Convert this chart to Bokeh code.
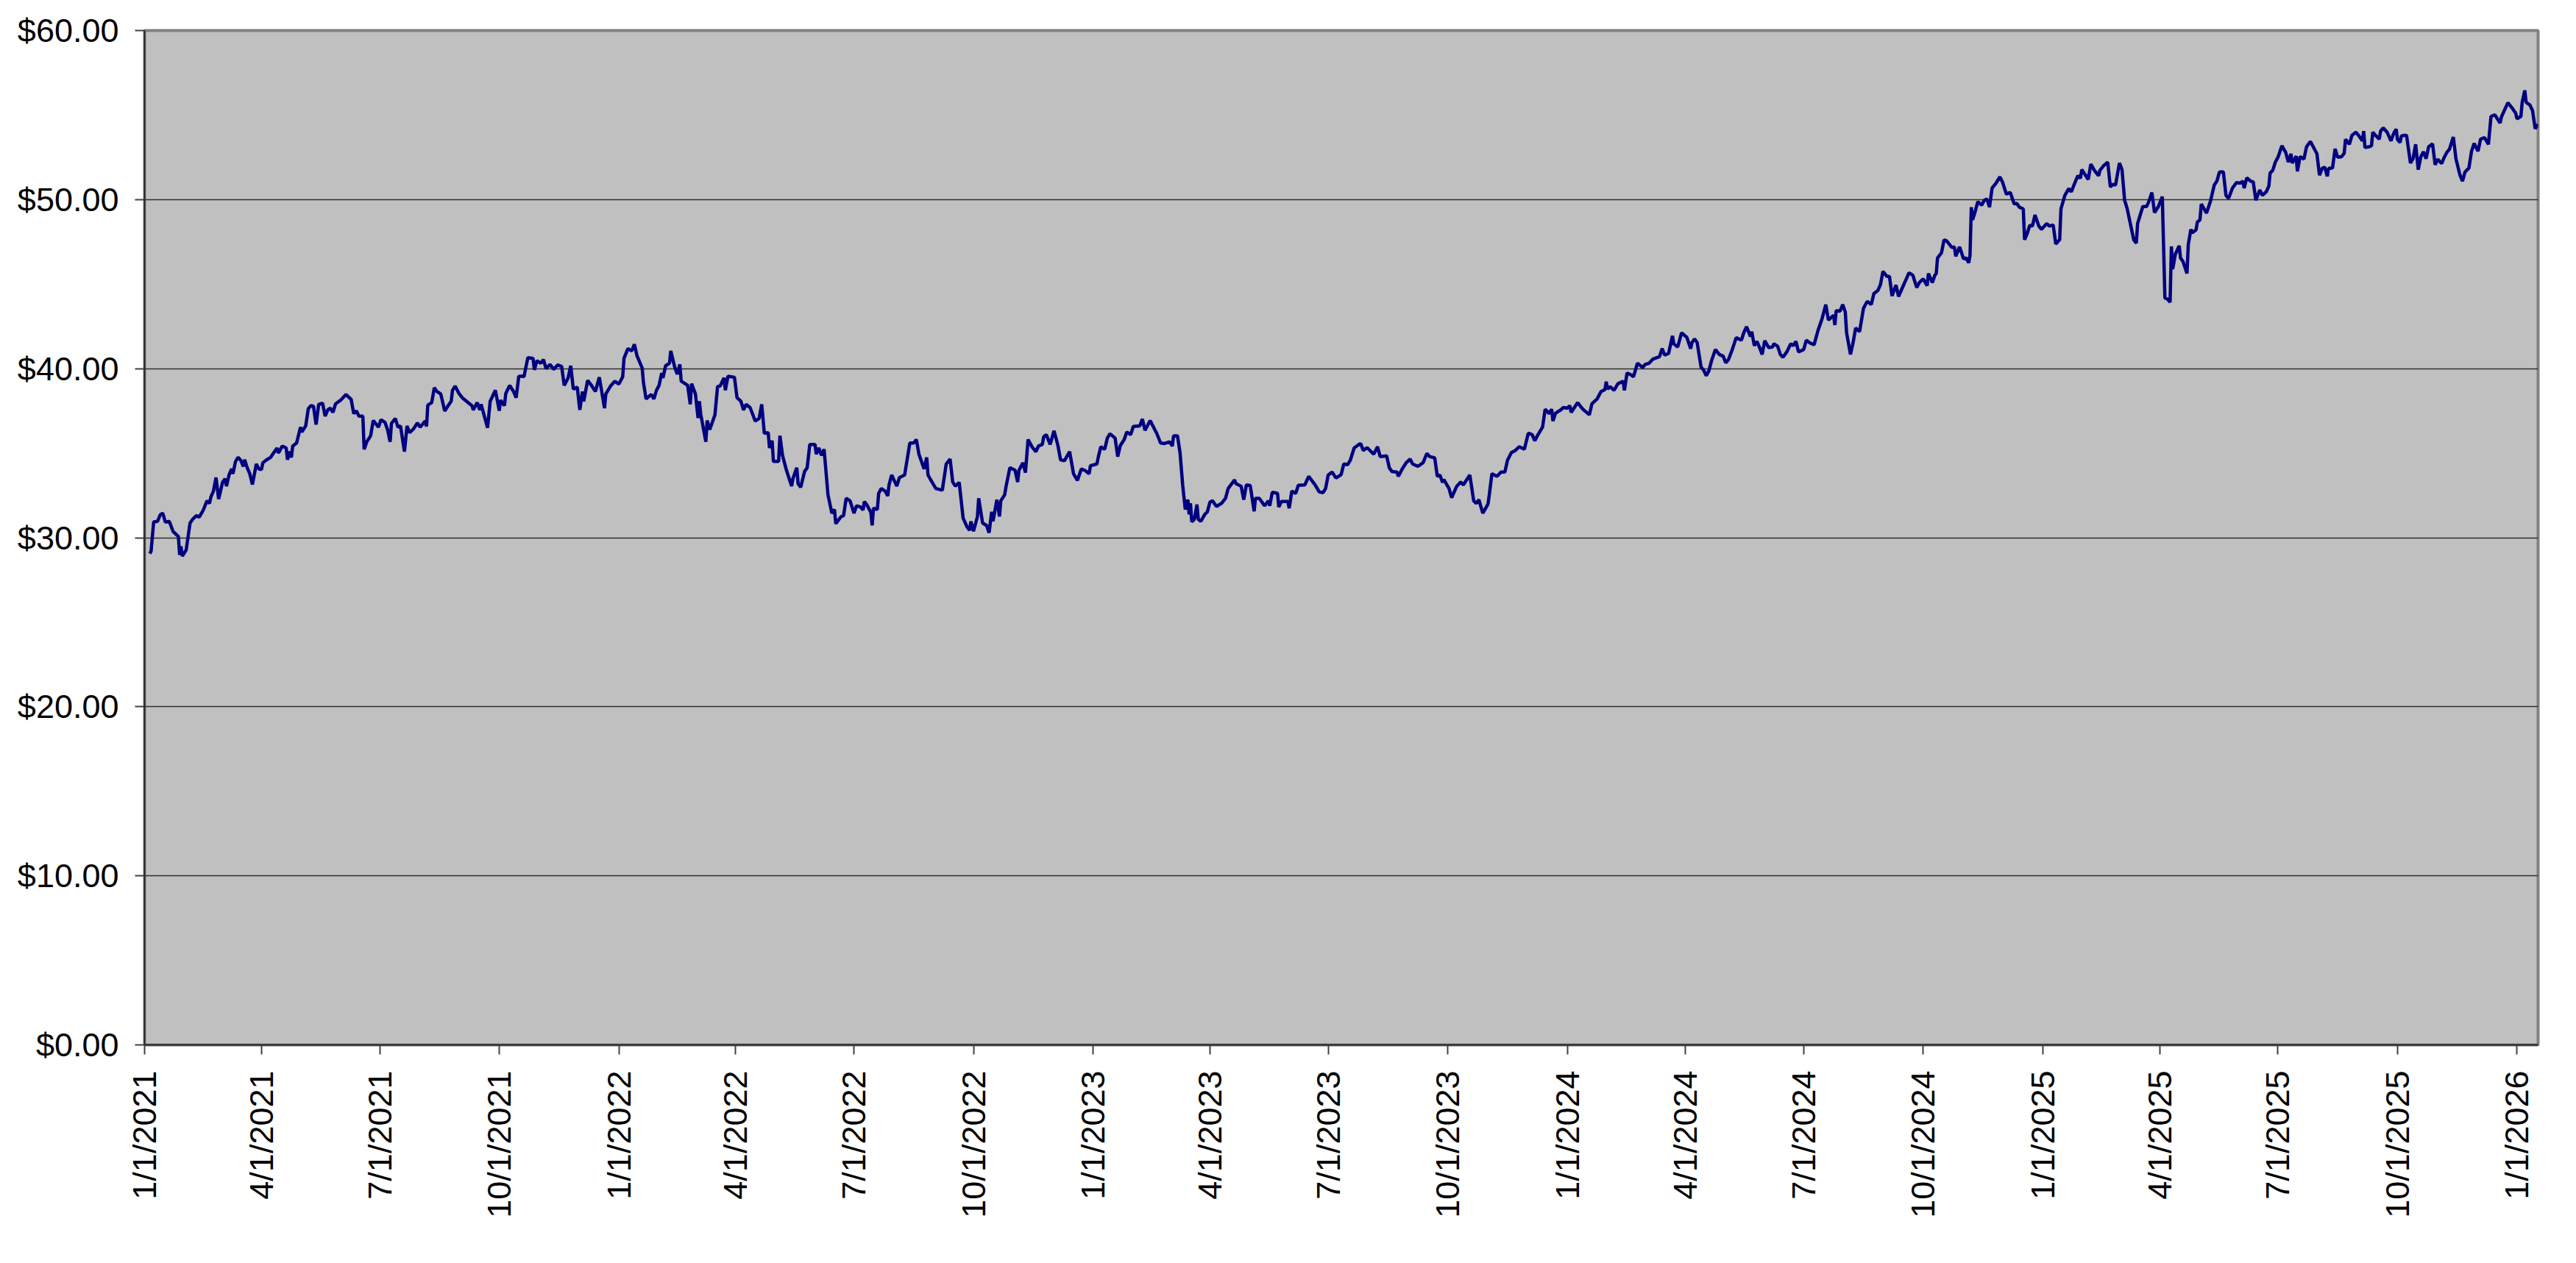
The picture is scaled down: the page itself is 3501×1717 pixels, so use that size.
import math
import pandas as pd
from bokeh.plotting import figure
from bokeh.models import ColumnDataSource, Range1d, FixedTicker, NumeralTickFormatter
from bokeh.embed import file_html
from bokeh.resources import INLINE

# ---- data: (month-day, price) per year ----
p2021 = [
    ("01-05", 29.06), ("01-06", 29.2), ("01-08", 30.94), ("01-11", 30.97), ("01-13", 31.35), ("01-15", 31.45),
    ("01-17", 30.92), ("01-20", 30.97), ("01-23", 30.36), ("01-27", 30.07), ("01-28", 28.98), ("01-29", 29.49),
    ("01-30", 28.91), ("02-02", 29.27), ("02-05", 30.87), ("02-07", 31.09), ("02-10", 31.31), ("02-12", 31.21),
    ("02-15", 31.6), ("02-18", 32.18), ("02-20", 32.03), ("02-21", 32.4), ("02-23", 32.76), ("02-25", 33.56),
    ("02-27", 32.28), ("03-02", 33.27), ("03-04", 33.49), ("03-05", 33.05), ("03-07", 33.71), ("03-09", 34.07),
    ("03-10", 33.78), ("03-12", 34.51), ("03-14", 34.75), ("03-16", 34.58), ("03-18", 34.22), ("03-19", 34.61),
    ("03-21", 34.14), ("03-23", 33.78), ("03-25", 33.15), ("03-28", 34.36), ("03-30", 34.07), ("04-01", 34.03),
    ("04-02", 34.43), ("04-05", 34.61), ("04-08", 34.75), ("04-11", 35.09), ("04-13", 35.31), ("04-14", 35.01),
    ("04-17", 35.42), ("04-20", 35.31), ("04-21", 34.61), ("04-22", 35.09), ("04-24", 34.75), ("04-25", 35.42),
    ("04-28", 35.6), ("05-01", 36.54), ("05-02", 36.25), ("05-05", 36.61), ("05-07", 37.63), ("05-09", 37.81),
    ("05-11", 37.78), ("05-13", 36.69), ("05-15", 37.89), ("05-18", 37.95), ("05-20", 37.19), ("05-22", 37.56),
    ("05-24", 37.66), ("05-26", 37.41), ("05-28", 37.92), ("06-01", 38.14), ("06-05", 38.47), ("06-09", 38.18),
    ("06-11", 37.34), ("06-13", 37.51), ("06-15", 37.19), ("06-18", 37.19), ("06-19", 35.23), ("06-21", 35.67),
    ("06-24", 36.03), ("06-26", 36.93), ("06-30", 36.54), ("07-02", 36.98), ("07-05", 36.83), ("07-07", 36.4),
    ("07-09", 35.67), ("07-10", 36.76), ("07-13", 37.05), ("07-15", 36.54), ("07-17", 36.61), ("07-20", 35.09),
    ("07-22", 36.61), ("07-24", 36.21), ("07-27", 36.44), ("07-30", 36.79), ("08-01", 36.54), ("08-05", 36.9),
    ("08-06", 36.58), ("08-07", 37.85), ("08-10", 37.99), ("08-12", 38.87), ("08-14", 38.65), ("08-17", 38.5),
    ("08-20", 37.49), ("08-23", 37.85), ("08-25", 38.07), ("08-26", 38.72), ("08-28", 38.97), ("08-31", 38.53),
    ("09-01", 38.43), ("09-03", 38.24), ("09-07", 37.99), ("09-10", 37.81), ("09-11", 37.56), ("09-14", 37.99),
    ("09-16", 37.56), ("09-17", 37.89), ("09-19", 37.34), ("09-22", 36.5), ("09-24", 38.07), ("09-28", 38.72),
    ("10-01", 37.51), ("10-02", 38.14), ("10-05", 37.81), ("10-06", 38.53), ("10-09", 39.01), ("10-12", 38.65),
    ("10-14", 38.28), ("10-16", 39.55), ("10-19", 39.55), ("10-20", 39.52), ("10-23", 40.65), ("10-27", 40.61),
    ("10-28", 39.93), ("10-30", 40.47), ("11-02", 40.32), ("11-04", 40.54), ("11-06", 40.0), ("11-09", 40.25),
    ("11-12", 39.96), ("11-15", 40.22), ("11-18", 40.13), ("11-20", 39.01), ("11-23", 39.45), ("11-25", 40.17),
    ("11-27", 38.79), ("11-30", 38.91), ("12-02", 37.56), ("12-04", 38.65), ("12-05", 38.07), ("12-08", 39.3),
    ("12-11", 39.01), ("12-14", 38.65), ("12-17", 39.49), ("12-21", 37.66), ("12-22", 38.5), ("12-26", 39.01),
    ("12-29", 39.26),
]
p2022 = [
    ("01-01", 39.08), ("01-04", 39.52), ("01-05", 40.61), ("01-08", 41.19), ("01-11", 41.05), ("01-13", 41.44),
    ("01-15", 40.76), ("01-19", 40.03), ("01-20", 39.16), ("01-22", 38.21), ("01-26", 38.47), ("01-28", 38.21),
    ("01-30", 38.72), ("02-01", 39.01), ("02-03", 39.74), ("02-04", 39.45), ("02-06", 40.17), ("02-09", 40.32),
    ("02-10", 41.05), ("02-13", 40.1), ("02-15", 39.67), ("02-17", 40.25), ("02-18", 39.26), ("02-23", 39.01),
    ("02-25", 37.89), ("02-26", 39.11), ("03-01", 38.5), ("03-03", 37.08), ("03-04", 38.07), ("03-05", 37.34),
    ("03-09", 35.67), ("03-10", 36.93), ("03-12", 36.4), ("03-16", 37.27), ("03-18", 38.94), ("03-20", 38.97),
    ("03-23", 39.45), ("03-24", 38.72), ("03-26", 39.55), ("03-31", 39.49), ("04-02", 38.28), ("04-05", 38.07),
    ("04-07", 37.56), ("04-09", 37.89), ("04-12", 37.7), ("04-14", 37.31), ("04-16", 36.9), ("04-19", 37.05),
    ("04-21", 37.89), ("04-23", 36.18), ("04-26", 36.21), ("04-27", 35.31), ("04-29", 35.74), ("04-30", 34.51),
    ("05-04", 34.51), ("05-05", 36.03), ("05-07", 34.87), ("05-10", 34.0), ("05-14", 33.05), ("05-15", 33.49),
    ("05-18", 34.14), ("05-19", 33.2), ("05-21", 32.98), ("05-24", 33.92), ("05-26", 34.14), ("05-28", 35.52),
    ("06-01", 35.52), ("06-02", 34.94), ("06-04", 35.31), ("06-06", 34.87), ("06-08", 35.23), ("06-11", 32.54),
    ("06-14", 31.45), ("06-16", 31.67), ("06-17", 30.83), ("06-21", 31.24), ("06-23", 31.31), ("06-25", 32.33),
    ("06-28", 32.18), ("07-01", 31.45), ("07-03", 31.89), ("07-06", 31.82), ("07-08", 31.64), ("07-09", 32.14),
    ("07-11", 31.93), ("07-14", 31.5), ("07-15", 30.73), ("07-16", 31.74), ("07-19", 31.67), ("07-20", 32.62),
    ("07-22", 32.91), ("07-25", 32.76), ("07-27", 32.47), ("07-28", 33.13), ("07-30", 33.71), ("08-03", 33.05),
    ("08-05", 33.56), ("08-09", 33.71), ("08-13", 35.6), ("08-16", 35.6), ("08-18", 35.81), ("08-20", 34.94),
    ("08-24", 34.07), ("08-26", 34.75), ("08-27", 33.71), ("08-30", 33.3), ("09-02", 32.91), ("09-07", 32.81),
    ("09-10", 34.36), ("09-13", 34.65), ("09-15", 33.3), ("09-17", 33.05), ("09-20", 33.27), ("09-23", 31.16),
    ("09-26", 30.65), ("09-28", 30.44), ("09-29", 30.97), ("10-01", 30.38), ("10-04", 31.24), ("10-05", 32.33),
    ("10-08", 30.87), ("10-11", 30.73), ("10-13", 30.29), ("10-15", 31.53), ("10-16", 30.97), ("10-19", 32.25),
    ("10-21", 31.26), ("10-22", 32.18), ("10-25", 32.54), ("10-26", 33.01), ("10-29", 34.14), ("11-02", 33.99),
    ("11-04", 33.3), ("11-05", 33.99), ("11-08", 34.43), ("11-10", 33.85), ("11-12", 35.81), ("11-15", 35.38),
    ("11-18", 35.09), ("11-20", 35.42), ("11-23", 35.52), ("11-24", 35.96), ("11-26", 36.1), ("11-29", 35.52),
    ("12-02", 36.32), ("12-05", 35.45), ("12-07", 34.61), ("12-10", 34.55), ("12-14", 35.09), ("12-17", 33.78),
    ("12-20", 33.39), ("12-23", 34.07), ("12-26", 33.97), ("12-29", 33.78), ("12-30", 34.26),
]
p2023 = [
    ("01-04", 34.36), ("01-05", 34.75), ("01-07", 35.38), ("01-10", 35.23), ("01-12", 35.89), ("01-14", 36.15),
    ("01-18", 35.89), ("01-20", 34.8), ("01-22", 35.45), ("01-25", 35.81), ("01-27", 36.25), ("01-30", 36.1),
    ("02-01", 36.58), ("02-06", 36.61), ("02-08", 37.02), ("02-10", 36.35), ("02-14", 36.93), ("02-17", 36.47),
    ("02-19", 36.18), ("02-22", 35.6), ("02-25", 35.57), ("03-01", 35.67), ("03-03", 35.42), ("03-04", 36.03),
    ("03-07", 36.03), ("03-09", 35.01), ("03-11", 33.12), ("03-13", 31.67), ("03-15", 32.25), ("03-16", 31.38),
    ("03-17", 32.04), ("03-18", 30.94), ("03-20", 31.09), ("03-22", 31.96), ("03-23", 31.09), ("03-25", 30.97),
    ("03-28", 31.38), ("03-30", 31.53), ("04-01", 32.11), ("04-03", 32.18), ("04-06", 31.85), ("04-10", 32.04),
    ("04-13", 32.33), ("04-15", 32.91), ("04-20", 33.42), ("04-21", 33.2), ("04-25", 33.05), ("04-27", 32.25),
    ("04-29", 33.12), ("05-02", 33.09), ("05-05", 31.56), ("05-06", 32.33), ("05-09", 32.33), ("05-13", 31.89),
    ("05-16", 32.18), ("05-17", 31.89), ("05-19", 32.69), ("05-23", 32.62), ("05-24", 31.82), ("05-26", 32.14),
    ("05-31", 32.14), ("06-01", 31.74), ("06-03", 32.76), ("06-06", 32.62), ("06-08", 33.1), ("06-13", 33.12),
    ("06-16", 33.63), ("06-21", 33.12), ("06-24", 32.72), ("06-27", 32.66), ("06-29", 32.91), ("07-01", 33.71),
    ("07-04", 33.88), ("07-07", 33.53), ("07-11", 33.74), ("07-13", 34.36), ("07-16", 34.32), ("07-18", 34.58),
    ("07-21", 35.31), ("07-24", 35.48), ("07-26", 35.57), ("07-28", 35.16), ("07-31", 35.33), ("08-05", 34.94),
    ("08-08", 35.38), ("08-10", 34.8), ("08-15", 34.84), ("08-17", 34.14), ("08-19", 33.92), ("08-23", 33.88),
    ("08-24", 33.63), ("08-27", 34.07), ("08-30", 34.43), ("09-02", 34.65), ("09-04", 34.36), ("09-08", 34.22),
    ("09-12", 34.43), ("09-15", 34.99), ("09-17", 34.8), ("09-21", 34.72), ("09-23", 33.63), ("09-25", 33.71),
    ("09-27", 33.27), ("09-28", 33.44), ("10-02", 32.91), ("10-04", 32.37), ("10-08", 33.05), ("10-11", 33.3),
    ("10-13", 33.12), ("10-18", 33.71), ("10-21", 32.18), ("10-23", 32.03), ("10-25", 32.25), ("10-28", 31.45),
    ("11-01", 31.99), ("11-02", 32.54), ("11-04", 33.78), ("11-08", 33.63), ("11-11", 33.88), ("11-14", 33.88),
    ("11-16", 34.58), ("11-19", 35.04), ("11-22", 35.16), ("11-25", 35.38), ("11-29", 35.23), ("12-02", 36.18),
    ("12-05", 36.1), ("12-07", 35.74), ("12-09", 36.03), ("12-13", 36.54), ("12-15", 37.6), ("12-18", 37.34),
    ("12-20", 37.6), ("12-21", 36.9), ("12-23", 37.37), ("12-27", 37.56), ("12-29", 37.7),
]
p2024 = [
    ("01-01", 37.66), ("01-03", 37.81), ("01-04", 37.41), ("01-09", 37.99), ("01-13", 37.6), ("01-18", 37.27),
    ("01-20", 37.92), ("01-24", 38.21), ("01-27", 38.65), ("01-30", 38.76), ("01-31", 39.23), ("02-01", 38.79),
    ("02-03", 38.94), ("02-06", 38.72), ("02-09", 39.11), ("02-13", 39.26), ("02-14", 38.72), ("02-16", 39.74),
    ("02-19", 39.64), ("02-21", 39.52), ("02-24", 40.32), ("02-28", 40.07), ("03-01", 40.25), ("03-04", 40.32),
    ("03-07", 40.57), ("03-12", 40.71), ("03-14", 41.19), ("03-16", 40.8), ("03-19", 40.9), ("03-22", 41.94),
    ("03-23", 41.47), ("03-26", 41.28), ("03-29", 42.12), ("04-02", 41.86), ("04-05", 41.18), ("04-06", 41.54),
    ("04-08", 41.76), ("04-10", 41.54), ("04-13", 40.09), ("04-15", 39.91), ("04-17", 39.58), ("04-19", 39.87),
    ("04-21", 40.45), ("04-24", 41.13), ("04-27", 40.84), ("04-30", 40.74), ("05-02", 40.35), ("05-04", 40.52),
    ("05-07", 41.13), ("05-10", 41.83), ("05-14", 41.68), ("05-16", 42.15), ("05-18", 42.48), ("05-21", 41.9),
    ("05-22", 42.19), ("05-24", 41.36), ("05-26", 41.61), ("05-28", 41.25), ("05-30", 40.84), ("06-01", 41.65),
    ("06-04", 41.25), ("06-07", 41.28), ("06-08", 41.47), ("06-11", 41.32), ("06-13", 40.84), ("06-15", 40.67),
    ("06-18", 40.99), ("06-21", 41.47), ("06-23", 41.36), ("06-25", 41.61), ("06-27", 40.99), ("07-01", 41.13),
    ("07-03", 41.68), ("07-06", 41.51), ("07-09", 41.42), ("07-12", 42.26), ("07-15", 42.92), ("07-18", 43.79),
    ("07-20", 42.87), ("07-24", 43.16), ("07-25", 42.58), ("07-26", 43.43), ("07-29", 43.4), ("07-31", 43.79),
    ("08-02", 43.35), ("08-03", 42.12), ("08-06", 40.84), ("08-08", 41.54), ("08-10", 42.41), ("08-13", 42.19),
    ("08-16", 43.57), ("08-18", 43.86), ("08-19", 43.98), ("08-22", 43.79), ("08-24", 44.44), ("08-27", 44.62),
    ("08-29", 44.95), ("08-31", 45.75), ("09-03", 45.46), ("09-05", 45.46), ("09-07", 44.3), ("09-10", 44.95),
    ("09-12", 44.27), ("09-14", 44.62), ("09-17", 45.14), ("09-18", 45.31), ("09-20", 45.67), ("09-23", 45.53),
    ("09-24", 45.28), ("09-26", 44.8), ("09-28", 45.09), ("10-01", 45.31), ("10-04", 44.91), ("10-05", 45.63),
    ("10-08", 45.09), ("10-10", 45.53), ("10-11", 45.63), ("10-12", 46.55), ("10-15", 46.84), ("10-17", 47.61),
    ("10-19", 47.56), ("10-23", 47.17), ("10-25", 47.2), ("10-26", 46.65), ("10-29", 47.2), ("11-01", 46.5),
    ("11-03", 46.55), ("11-05", 46.26), ("11-06", 46.69), ("11-07", 49.55), ("11-08", 48.8), ("11-10", 49.3),
    ("11-12", 49.88), ("11-15", 49.67), ("11-17", 49.96), ("11-19", 50.03), ("11-21", 49.55), ("11-23", 50.68),
    ("11-26", 50.97), ("11-29", 51.34), ("12-01", 51.04), ("12-04", 50.32), ("12-05", 50.36), ("12-07", 50.42),
    ("12-10", 49.74), ("12-12", 49.78), ("12-14", 49.55), ("12-17", 49.45), ("12-18", 47.63), ("12-20", 47.99),
    ("12-22", 48.48), ("12-24", 48.43), ("12-26", 49.09), ("12-29", 48.43), ("12-31", 48.24),
]
p2025 = [
    ("01-04", 48.58), ("01-06", 48.43), ("01-09", 48.5), ("01-11", 47.37), ("01-14", 47.63), ("01-15", 49.45),
    ("01-18", 50.25), ("01-21", 50.65), ("01-23", 50.46), ("01-25", 50.86), ("01-28", 51.41), ("01-30", 51.26),
    ("01-31", 51.77), ("02-02", 51.55), ("02-05", 51.19), ("02-07", 52.1), ("02-10", 51.7), ("02-13", 51.41),
    ("02-14", 51.73), ("02-17", 52.02), ("02-20", 52.21), ("02-22", 50.75), ("02-24", 50.9), ("02-26", 50.86),
    ("03-01", 52.16), ("03-03", 51.77), ("03-05", 49.96), ("03-07", 49.45), ("03-12", 47.63), ("03-14", 47.42),
    ("03-15", 48.58), ("03-17", 49.09), ("03-19", 49.59), ("03-22", 49.59), ("03-24", 49.96), ("03-26", 50.42),
    ("03-28", 49.23), ("03-31", 49.59), ("04-03", 50.17), ("04-04", 47.2), ("04-05", 44.18), ("04-07", 44.12),
    ("04-09", 43.93), ("04-10", 47.23), ("04-11", 45.89), ("04-13", 46.76), ("04-16", 47.27), ("04-17", 46.55),
    ("04-19", 46.33), ("04-22", 45.63), ("04-23", 47.34), ("04-25", 48.24), ("04-26", 48.04), ("04-29", 48.21),
    ("04-30", 48.68), ("05-02", 48.8), ("05-03", 49.74), ("05-07", 49.2), ("05-10", 49.88), ("05-13", 50.86),
    ("05-15", 51.09), ("05-17", 51.63), ("05-20", 51.63), ("05-22", 50.25), ("05-24", 50.07), ("05-27", 50.68),
    ("05-30", 51.0), ("06-02", 50.97), ("06-04", 51.09), ("06-05", 50.68), ("06-07", 51.29), ("06-10", 51.09),
    ("06-12", 51.04), ("06-14", 49.96), ("06-17", 50.57), ("06-19", 50.25), ("06-22", 50.46), ("06-24", 50.8),
    ("06-25", 51.58), ("06-27", 51.73), ("06-29", 52.21), ("07-01", 52.5), ("07-02", 52.71), ("07-04", 53.18),
    ("07-07", 52.79), ("07-09", 52.21), ("07-11", 52.71), ("07-12", 52.16), ("07-15", 52.57), ("07-16", 51.67),
    ("07-18", 52.54), ("07-21", 52.39), ("07-23", 53.12), ("07-26", 53.44), ("07-28", 53.15), ("07-31", 52.71),
    ("08-02", 51.44), ("08-04", 51.84), ("08-06", 51.92), ("08-08", 51.38), ("08-09", 51.84), ("08-12", 51.87),
    ("08-14", 53.0), ("08-16", 52.5), ("08-19", 52.54), ("08-21", 52.74), ("08-22", 53.56), ("08-25", 53.27),
    ("08-27", 53.8), ("08-30", 53.99), ("09-01", 53.8), ("09-04", 53.47), ("09-05", 54.05), ("09-06", 53.08),
    ("09-09", 53.12), ("09-11", 53.18), ("09-12", 53.99), ("09-14", 53.8), ("09-17", 53.58), ("09-18", 54.05),
    ("09-20", 54.24), ("09-23", 53.99), ("09-26", 53.47), ("09-28", 53.9), ("09-30", 54.17), ("10-01", 53.56),
    ("10-03", 53.37), ("10-04", 53.76), ("10-06", 53.8), ("10-08", 53.8), ("10-11", 52.16), ("10-13", 52.42),
    ("10-15", 53.27), ("10-17", 51.77), ("10-19", 52.54), ("10-21", 52.83), ("10-23", 52.42), ("10-25", 53.12),
    ("10-28", 53.3), ("10-30", 52.06), ("11-01", 52.39), ("11-04", 52.13), ("11-06", 52.5), ("11-08", 52.79),
    ("11-10", 52.98), ("11-13", 53.7), ("11-15", 52.42), ("11-18", 51.48), ("11-20", 51.09), ("11-22", 51.63),
    ("11-25", 51.87), ("11-27", 52.86), ("11-29", 53.32), ("12-02", 52.86), ("12-04", 53.58), ("12-07", 53.66),
    ("12-10", 53.27), ("12-12", 54.92), ("12-15", 55.01), ("12-19", 54.53), ("12-20", 54.89), ("12-25", 55.73),
    ("12-28", 55.44), ("12-31", 55.11),
]
p2026 = [
    ("01-01", 54.78), ("01-04", 54.92), ("01-05", 55.76), ("01-07", 56.46), ("01-08", 55.76), ("01-11", 55.59),
    ("01-13", 55.25), ("01-15", 54.19), ("01-17", 54.46),
]

tick_dates = ["2021-01-01", "2021-04-01", "2021-07-01", "2021-10-01",
              "2022-01-01", "2022-04-01", "2022-07-01", "2022-10-01",
              "2023-01-01", "2023-04-01", "2023-07-01", "2023-10-01",
              "2024-01-01", "2024-04-01", "2024-07-01", "2024-10-01",
              "2025-01-01", "2025-04-01", "2025-07-01", "2025-10-01",
              "2026-01-01"]
tick_labels = ["1/1/2021", "4/1/2021", "7/1/2021", "10/1/2021",
               "1/1/2022", "4/1/2022", "7/1/2022", "10/1/2022",
               "1/1/2023", "4/1/2023", "7/1/2023", "10/1/2023",
               "1/1/2024", "4/1/2024", "7/1/2024", "10/1/2024",
               "1/1/2025", "4/1/2025", "7/1/2025", "10/1/2025",
               "1/1/2026"]
y_ticks = [0, 10, 20, 30, 40, 50, 60]

# ---- build source ----
dates, prices = [], []
for year, rows in ((2021, p2021), (2022, p2022), (2023, p2023), (2024, p2024), (2025, p2025), (2026, p2026)):
    for md, v in rows:
        dates.append(pd.Timestamp(f"{year}-{md}"))
        prices.append(v)
source = ColumnDataSource(data=dict(date=dates, price=prices))

tick_ms = [int(pd.Timestamp(d).value // 10**6) for d in tick_dates]

FONT = "Liberation Sans"
FS = "45px"

p = figure(
    frame_width=3253, frame_height=1379,
    min_border_left=196, min_border_right=36, min_border_top=41, min_border_bottom=281,
    x_axis_type="datetime",
    x_range=Range1d(pd.Timestamp("2021-01-01"), pd.Timestamp("2026-01-17 06:00")),
    y_range=Range1d(0, 60),
    output_backend="svg", toolbar_location=None, tools="",
)
p.background_fill_color = "#C0C0C0"
p.border_fill_color = "white"
p.outline_line_color = "#808080"
p.outline_line_width = 4

p.line("date", "price", source=source, line_color="#000080", line_width=4.5)

# x axis
p.xaxis.ticker = FixedTicker(ticks=tick_ms)
p.xaxis.major_label_overrides = {t: l for t, l in zip(tick_ms, tick_labels)}
p.xaxis.major_label_orientation = math.pi / 2
p.xaxis.major_label_text_font = FONT
p.xaxis.major_label_text_font_size = FS
p.xaxis.major_label_text_color = "black"
p.xaxis.major_label_standoff = 22
p.xaxis.major_tick_out = 13
p.xaxis.major_tick_in = 0
p.xaxis.minor_tick_out = 0
p.xaxis.minor_tick_in = 0
p.xaxis.major_tick_line_color = "#404040"
p.xaxis.major_tick_line_width = 2
p.xaxis.axis_line_color = "#202020"
p.xaxis.axis_line_width = 2

# y axis
p.yaxis.ticker = FixedTicker(ticks=y_ticks)
p.yaxis.formatter = NumeralTickFormatter(format="$0.00")
p.yaxis.major_label_text_font = FONT
p.yaxis.major_label_text_font_size = FS
p.yaxis.major_label_text_color = "black"
p.yaxis.major_label_standoff = 22
p.yaxis.major_tick_out = 13
p.yaxis.major_tick_in = 0
p.yaxis.minor_tick_out = 0
p.yaxis.minor_tick_in = 0
p.yaxis.major_tick_line_color = "#404040"
p.yaxis.major_tick_line_width = 2
p.yaxis.axis_line_color = "#202020"
p.yaxis.axis_line_width = 2

p.xgrid.visible = False
p.ygrid.grid_line_color = "#2e2e2e"
p.ygrid.grid_line_width = 1.5

open("out.html", "w").write(file_html(p, INLINE))
